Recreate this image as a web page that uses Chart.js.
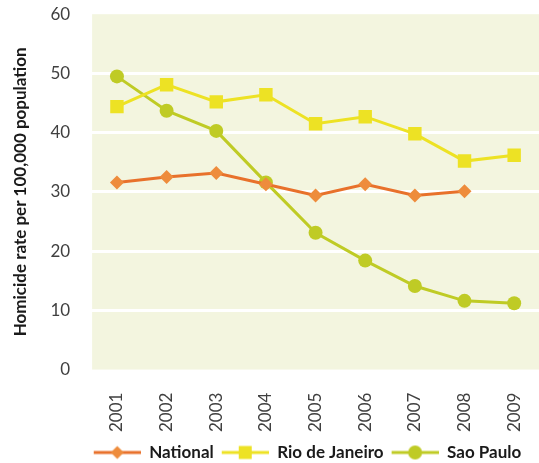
<!DOCTYPE html>
<html>
<head>
<meta charset="utf-8">
<script src="https://cdn.jsdelivr.net/npm/chart.js@4"></script>
<style>
  html, body { margin: 0; padding: 0; background: #fff; }
  #wrap { width: 539px; height: 463px; }
</style>
</head>
<body>
<div id="wrap"><canvas id="homicideChart" width="539" height="463"></canvas></div>
<script>
const years = ['2001', '2002', '2003', '2004', '2005', '2006', '2007', '2008', '2009'];
const national = [31.6, 32.5, 33.2, 31.3, 29.4, 31.3, 29.4, 30.1, null];
const rioDeJaneiro = [44.4, 48.1, 45.2, 46.4, 41.5, 42.7, 39.8, 35.2, 36.2];
const saoPaulo = [49.5, 43.7, 40.3, 31.6, 23.1, 18.4, 14.1, 11.6, 11.2];
const yTicks = [0, 10, 20, 30, 40, 50, 60];

const FONT = 'Lato, "Open Sans", sans-serif';

// little line+marker swatches for the legend (blank 8px on the left = gap between items)
function swatch(lineColor, markColor, shape) {
  const c = document.createElement('canvas');
  c.width = 55; c.height = 16;
  const g = c.getContext('2d');
  g.strokeStyle = lineColor;
  g.lineWidth = 3;
  g.beginPath(); g.moveTo(8, 8); g.lineTo(55, 8); g.stroke();
  g.fillStyle = markColor;
  g.beginPath();
  if (shape === 'diamond') {
    g.moveTo(31.5, 1.5); g.lineTo(38, 8); g.lineTo(31.5, 14.5); g.lineTo(25, 8);
  } else if (shape === 'square') {
    g.rect(25, 1.5, 13, 13);
  } else {
    g.arc(31.5, 8, 7, 0, Math.PI * 2);
  }
  g.fill();
  return c;
}

const plotBg = {
  id: 'plotBg',
  beforeDraw(chart) {
    const { ctx, chartArea: a } = chart;
    ctx.save();
    ctx.fillStyle = '#F3F5DF';
    ctx.fillRect(a.left, a.top, a.right - a.left, a.bottom - a.top);
    ctx.restore();
  }
};

// nudge the legend to where the original has it
const legendShift = {
  id: 'legendShift',
  afterLayout(chart) {
    const lg = chart.legend;
    lg.left += 29; lg.right += 29;
    lg.top += 8; lg.bottom += 8;
  }
};

const ctx = document.getElementById('homicideChart').getContext('2d');
new Chart(ctx, {
  type: 'line',
  data: {
    labels: years,
    datasets: [{
      label: 'National',
      data: national,
      borderColor: '#E8712B',
      backgroundColor: '#EE8C3C',
      pointBackgroundColor: '#EE8C3C',
      pointBorderWidth: 0,
      pointStyle: 'rectRot',
      pointRadius: 7,
      borderWidth: 3,
      legendSwatch: swatch('#E8712B', '#EE8C3C', 'diamond')
    }, {
      label: 'Rio de Janeiro',
      data: rioDeJaneiro,
      borderColor: '#EDE224',
      backgroundColor: '#EDE224',
      pointBackgroundColor: '#EDE224',
      pointBorderWidth: 0,
      pointStyle: 'rect',
      pointRadius: 9.5,
      borderWidth: 3,
      legendSwatch: swatch('#EDE224', '#EDE224', 'square')
    }, {
      label: 'Sao Paulo',
      data: saoPaulo,
      borderColor: '#BFCB25',
      backgroundColor: '#BFCB25',
      pointBackgroundColor: '#BFCB25',
      pointBorderWidth: 0,
      pointStyle: 'circle',
      pointRadius: 7,
      borderWidth: 3,
      legendSwatch: swatch('#BFCB25', '#BFCB25', 'circle')
    }]
  },
  options: {
    responsive: false,
    animation: false,
    layout: { autoPadding: false, padding: { top: 5, right: 0, left: 10, bottom: 0 } },
    scales: {
      x: {
        offset: true,
        // invisible tick marks push the labels down without extra side padding
        grid: { color: 'rgba(0,0,0,0)', tickColor: 'rgba(0,0,0,0)', drawTicks: true, tickLength: 19 },
        border: { display: false },
        ticks: {
          color: '#404040',
          font: { family: FONT, size: 17 },
          minRotation: 90,
          maxRotation: 90,
          padding: 4
        }
      },
      y: {
        min: 0,
        max: 60,
        afterBuildTicks(axis) { axis.ticks = yTicks.map(v => ({ value: v })); },
        grid: {
          color: c => (c.tick && (c.tick.value === 0 || c.tick.value === 60)) ? 'rgba(0,0,0,0)' : '#FFFFFF',
          lineWidth: 3,
          drawTicks: true,
          tickLength: 18,
          tickColor: 'rgba(0,0,0,0)'
        },
        border: { display: false },
        ticks: {
          color: '#404040',
          font: { family: FONT, size: 17 },
          padding: 4
        },
        title: {
          display: true,
          text: 'Homicide rate per 100,000 population',
          color: '#1a1a1a',
          font: { family: FONT, size: 17, weight: 'bold' },
          padding: { top: 0, bottom: 16 }
        }
      }
    },
    plugins: {
      legend: {
        position: 'bottom',
        labels: {
          usePointStyle: true,
          pointStyleWidth: 55,
          boxHeight: 16,
          padding: 0,
          color: '#1a1a1a',
          font: { family: FONT, size: 17, weight: 'bold' },
          generateLabels(chart) {
            return chart.data.datasets.map((ds, i) => ({
              text: ds.label,
              pointStyle: ds.legendSwatch,
              fillStyle: ds.borderColor,
              strokeStyle: ds.borderColor,
              lineWidth: 0,
              hidden: false,
              datasetIndex: i,
              fontColor: '#1a1a1a'
            }));
          }
        }
      },
      tooltip: { enabled: false }
    }
  },
  plugins: [plotBg, legendShift]
});
</script>
</body>
</html>
